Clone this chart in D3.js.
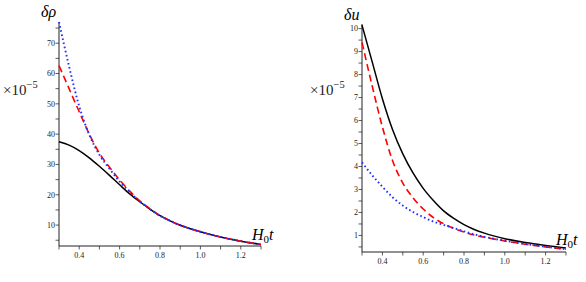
<!DOCTYPE html>
<html><head><meta charset="utf-8">
<script src="https://cdn.jsdelivr.net/npm/d3@7"></script>
<style>html,body{margin:0;padding:0;background:#fff;}svg{display:block;}</style>
</head><body>
<svg id="c" width="586" height="282"></svg>
<script>
// ---- data ----
const tValues = [0.3,0.35,0.4,0.45,0.5,0.55,0.6,0.65,0.7,0.75,0.8,0.85,0.9,0.95,1.0,1.1,1.2,1.3];
// left panel: delta rho (x10^-5)
const rhoBlack = [37.5,36.4,34.6,32.2,29.4,26.4,23.3,20.3,17.7,15.3,13.1,11.4,9.95,8.8,7.8,6.05,4.7,3.6];
const rhoRed   = [62.6,55.0,47.4,40.0,33.7,29.1,24.9,21.2,18.0,15.4,13.1,11.4,9.95,8.8,7.8,6.05,4.7,3.6];
const rhoBlue  = [77.0,62.3,49.2,39.8,33.2,28.6,24.4,20.9,17.8,15.3,13.1,11.4,9.95,8.8,7.8,6.05,4.7,3.6];
// right panel: delta u (x10^-5)
const uBlack = [10.15,8.55,6.95,5.6,4.55,3.72,3.05,2.52,2.07,1.74,1.47,1.26,1.1,0.97,0.86,0.69,0.56,0.45];
const uRed   = [9.4,7.5,5.72,4.25,3.28,2.64,2.15,1.78,1.51,1.31,1.15,1.02,0.92,0.84,0.76,0.62,0.5,0.4];
const uBlue  = [4.18,3.62,3.12,2.66,2.3,2.02,1.8,1.6,1.46,1.32,1.18,1.05,0.94,0.85,0.77,0.63,0.51,0.4];
const xTickLabels = [0.4,0.6,0.8,1.0,1.2];
const rhoTickLabels = [10,20,30,40,50,60,70];
const uTickLabels = [1,2,3,4,5,6,7,8,9,10];

const svg = d3.select("#c");
const serif = "'Liberation Serif','DejaVu Serif',serif";

function panel(o){
  const g = svg.append("g");
  const x = d3.scaleLinear().domain([0.3,1.3]).range([o.x0,o.x1]);
  const y = d3.scaleLinear().domain(o.ydom).range([o.y0,o.y1]);
  const xMinor = d3.range(3,14).map(d=>d/10);
  g.selectAll(".xm").data(xMinor).enter().append("line")
    .attr("x1",d=>x(d)).attr("x2",d=>x(d))
    .attr("y1",o.y0).attr("y2",o.y0+3.5)
    .attr("stroke","#333").attr("stroke-width",0.8);
  const yMinor = d3.range(Math.ceil(o.ydom[0]/o.ystep)*o.ystep, o.ydom[1]+1e-9, o.ystep);
  g.selectAll(".ym").data(yMinor).enter().append("line")
    .attr("x1",o.x0-3.5).attr("x2",o.x0)
    .attr("y1",d=>y(d)).attr("y2",d=>y(d))
    .attr("stroke","#333").attr("stroke-width",0.8);
  g.selectAll(".xl").data(xTickLabels).enter().append("text")
    .attr("x",d=>x(d)).attr("y",o.y0+12)
    .attr("text-anchor","middle").attr("font-family",serif).attr("font-size",8)
    .attr("fill","#222").text(d=>d3.format(".1f")(d));
  g.selectAll(".yl").data(o.yLabels).enter().append("text")
    .attr("x",o.x0-4).attr("y",d=>y(d)+2.8)
    .attr("text-anchor","end").attr("font-family",serif).attr("font-size",8)
    .attr("fill","#222").text(d=>d);
  g.append("line").attr("x1",o.x0).attr("x2",o.x0).attr("y1",o.y0).attr("y2",o.y1)
    .attr("stroke","#222").attr("stroke-width",1);
  g.append("line").attr("x1",o.x0).attr("x2",o.x1).attr("y1",o.y0).attr("y2",o.y0)
    .attr("stroke","#222").attr("stroke-width",1);
  const line = d3.line().x((d,i)=>x(tValues[i])).y(d=>y(d)).curve(d3.curveMonotoneX);
  const series = [
    {v:o.black, c:"#000", w:1.5, dash:null},
    {v:o.red, c:"#ff0000", w:1.6, dash:"7,4"},
    {v:o.blue, c:"#2030ff", w:1.9, dash:"1.6,2.6"}
  ];
  series.forEach(s=>{
    const p = g.append("path").attr("d",line(s.v)).attr("fill","none")
      .attr("stroke",s.c).attr("stroke-width",s.w);
    if(s.dash) p.attr("stroke-dasharray",s.dash);
  });
  g.append("text").attr("x",o.ylabX).attr("y",o.ylabY)
    .attr("font-family",serif).attr("font-size",16).attr("font-style","italic").attr("fill","#000")
    .text(o.ylab);
  const sc = g.append("text").attr("x",o.scX).attr("y",o.scY)
    .attr("font-family",serif).attr("font-size",15).attr("fill","#222");
  sc.append("tspan").text("\u00d710");
  sc.append("tspan").attr("dy",-7).attr("font-size",10.5).text("\u22125");
  const xl = g.append("text").attr("x",o.xlabX).attr("y",o.xlabY)
    .attr("font-family",serif).attr("font-size",16).attr("font-style","italic").attr("fill","#000");
  xl.append("tspan").text("H");
  xl.append("tspan").attr("dy",3).attr("font-size",11).attr("font-style","normal").text("0");
  xl.append("tspan").attr("dy",-3).text("t");
}

panel({x0:59,x1:261,y0:246,y1:22,ydom:[3.1,77],ystep:5,yLabels:rhoTickLabels,
  black:rhoBlack,red:rhoRed,blue:rhoBlue,ylab:"\u03b4\u03c1",ylabX:41,ylabY:17,
  scX:3,scY:95,xlabX:252,xlabY:240});
panel({x0:362,x1:566,y0:252,y1:24,ydom:[0.28,10.2],ystep:0.5,yLabels:uTickLabels,
  black:uBlack,red:uRed,blue:uBlue,ylab:"\u03b4u",ylabX:344,ylabY:20,
  scX:310,scY:95,xlabX:556,xlabY:245});
</script>
</body></html>
